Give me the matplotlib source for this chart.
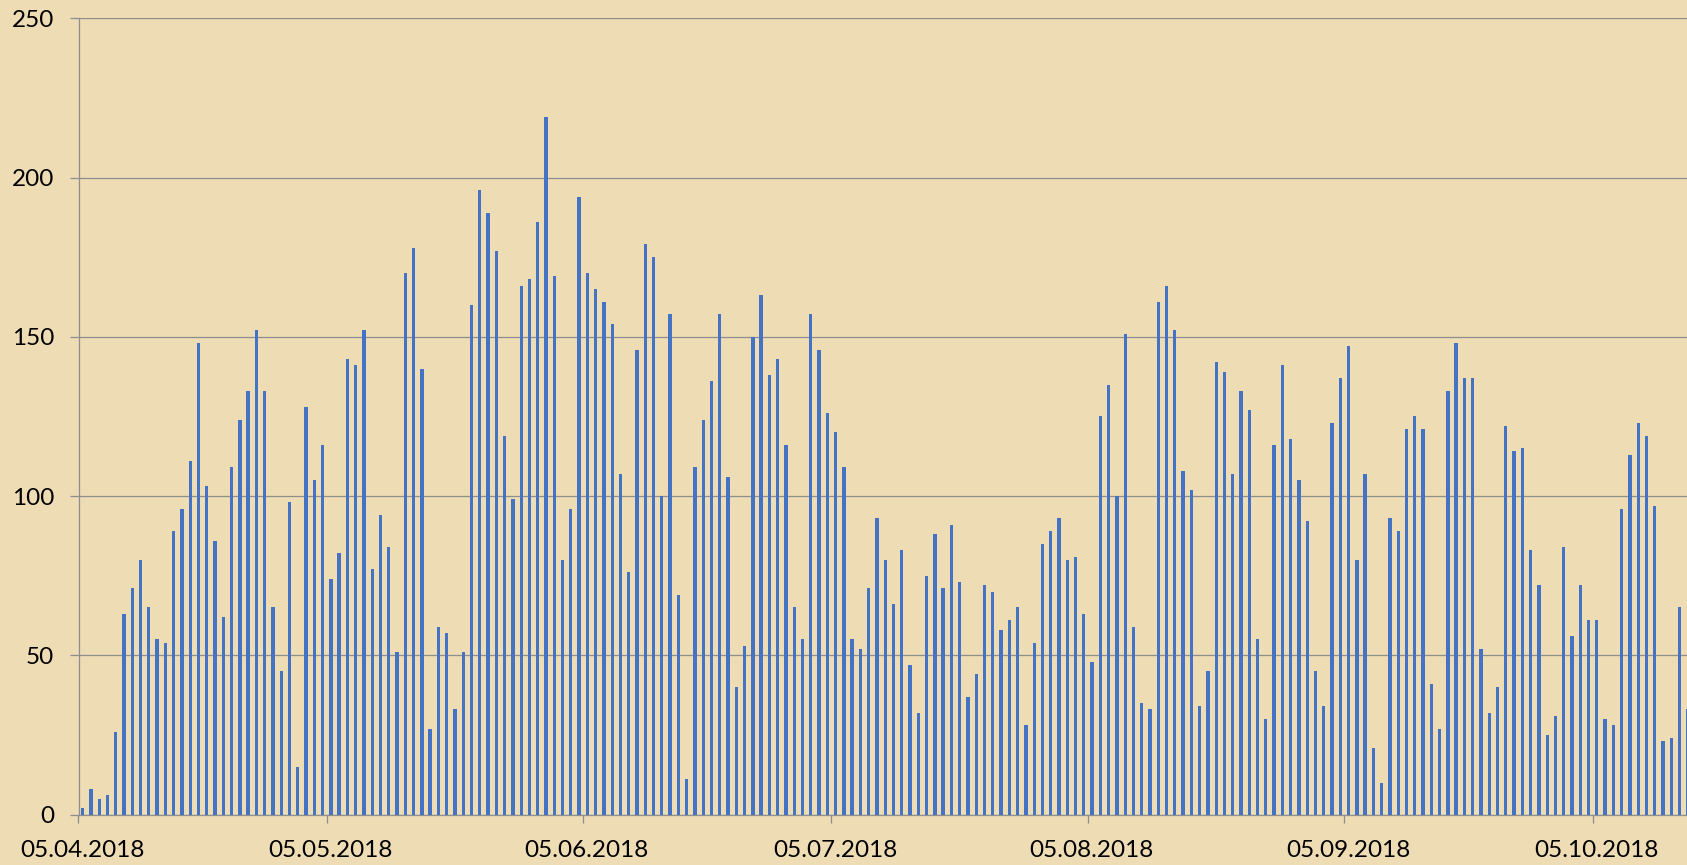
import datetime as dt
import numpy as np
import matplotlib
matplotlib.use('Agg')
import matplotlib.pyplot as plt
import matplotlib.dates as mdates
import matplotlib.transforms as mtransforms

# Daily values, starting 05.04.2018 (one bar per day)
start = dt.date(2018, 4, 5)
values = [
    2, 8, 5, 6, 26, 63, 71, 80, 65, 55,
    54, 89, 96, 111, 148, 103, 86, 62, 109, 124,
    133, 152, 133, 65, 45, 98, 15, 128, 105, 116,
    74, 82, 143, 141, 152, 77, 94, 84, 51, 170,
    178, 140, 27, 59, 57, 33, 51, 160, 196, 189,
    177, 119, 99, 166, 168, 186, 219, 169, 80, 96,
    194, 170, 165, 161, 154, 107, 76, 146, 179, 175,
    100, 157, 69, 11, 109, 124, 136, 157, 106, 40,
    53, 150, 163, 138, 143, 116, 65, 55, 157, 146,
    126, 120, 109, 55, 52, 71, 93, 80, 66, 83,
    47, 32, 75, 88, 71, 91, 73, 37, 44, 72,
    70, 58, 61, 65, 28, 54, 85, 89, 93, 80,
    81, 63, 48, 125, 135, 100, 151, 59, 35, 33,
    161, 166, 152, 108, 102, 34, 45, 142, 139, 107,
    133, 127, 55, 30, 116, 141, 118, 105, 92, 45,
    34, 123, 137, 147, 80, 107, 21, 10, 93, 89,
    121, 125, 121, 41, 27, 133, 148, 137, 137, 52,
    32, 40, 122, 114, 115, 83, 72, 25, 31, 84,
    56, 72, 61, 61, 30, 28, 96, 113, 123, 119,
    97, 23, 24, 65, 33,
]
y_ticks = [0, 50, 100, 150, 200, 250]

bg = '#EEDCB4'
grid_col = '#8E8E8E'

d0 = mdates.date2num(start)
dates = [start + dt.timedelta(days=i) for i in range(len(values))]
x = mdates.date2num(dates) + 0.5

W, H = 1687, 865
fig = plt.figure(figsize=(W / 100, H / 100), dpi=100, facecolor=bg)
ax = fig.add_axes([78.5 / W, 50.5 / H, 1 - 78.5 / W, (814.5 - 18.3) / H])
ax.set_facecolor(bg)

ax.bar(x, values, width=0.4, color='#4472C4', zorder=3)

ax.set_xlim(d0, d0 + 194.4)
ax.set_ylim(0, 250)
ax.set_yticks(y_ticks)
ax.xaxis.set_major_locator(mdates.MonthLocator(bymonthday=5))
ax.xaxis.set_major_formatter(mdates.DateFormatter('%d.%m.%Y'))

ax.grid(axis='y', color=grid_col, linewidth=0.9, zorder=1)
for s in ['top', 'right']:
    ax.spines[s].set_visible(False)
for s in ['left', 'bottom']:
    ax.spines[s].set_color(grid_col)
    ax.spines[s].set_linewidth(0.9)

ax.tick_params(axis='y', length=6.5, width=0.9, color=grid_col, pad=11,
               labelsize=17.5, labelcolor='black')
ax.tick_params(axis='x', length=5.8, width=0.9, color=grid_col, pad=12.5,
               labelsize=17.5, labelcolor='black')
for lab in ax.get_xticklabels() + ax.get_yticklabels():
    lab.set_family(['Lato', 'DejaVu Sans'])

# labels sit in the middle of the day slot, slightly right of the tick
offset = mtransforms.ScaledTranslation(3.6 / 100, 0, fig.dpi_scale_trans)
for lab in ax.get_xticklabels():
    lab.set_transform(lab.get_transform() + offset)

plt.savefig('out.png', dpi=100, facecolor=bg)
